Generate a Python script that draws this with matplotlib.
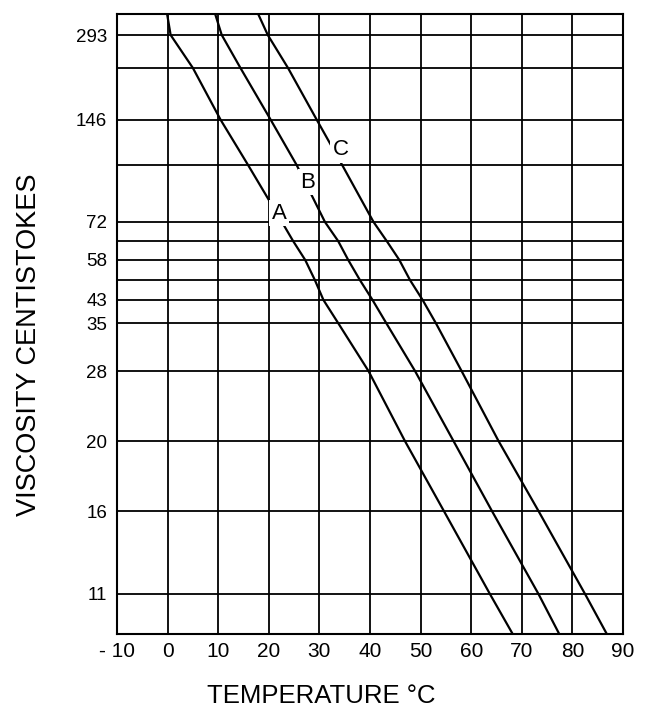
import numpy as np
import matplotlib
matplotlib.use("Agg")
import matplotlib.pyplot as plt

# ------------------------------------------------------------------
# Data
# ------------------------------------------------------------------
# ruled viscosity lines (cSt); the labelled ones and the unlabelled ones
labelled_cst = [293, 146, 72, 58, 43, 35, 28, 20, 16, 11]
unlabelled_cst = [220, 105, 65, 50]
temp_ticks = [-10, 0, 10, 20, 30, 40, 50, 60, 70, 80, 90]
temp_labels = ["- 10", "0", "10", "20", "30", "40", "50", "60", "70", "80", "90"]

# viscosities where each oil line was read (frame top .. frame bottom)
visc_read = [350, 293, 220, 146, 105, 72, 65, 58, 50, 43, 35, 28, 20, 16, 11, 9.3]
temp_A = [-0.1, 0.6, 5.0, 10.5, 15.9, 22.6, 24.8, 27.2, 29.1, 30.8, 33.7, 39.7, 46.9, 54.6, 63.7, 68.2]
temp_B = [9.4, 10.7, 14.4, 20.4, 25.5, 31.1, 33.7, 35.7, 38.0, 40.5, 43.2, 48.9, 56.5, 64.1, 73.3, 77.4]
temp_C = [17.9, 19.8, 23.8, 29.5, 34.5, 40.7, 43.3, 45.8, 47.9, 50.4, 53.0, 58.1, 65.4, 73.3, 82.5, 86.8]

# where the curve letters sit (temperature, viscosity)
letter_pos = {"A": (22.0, 76.4), "B": (27.7, 93.8), "C": (34.3, 117.2)}

# ------------------------------------------------------------------
# The printed chart uses its own (irregular) viscosity ruling:
# height of every ruled line above the lower frame edge, chart units
# ------------------------------------------------------------------
scale_cst = np.array([9.3, 11, 16, 20, 28, 35, 43, 50, 58, 65, 72, 105, 146, 220, 293, 350])
scale_h = np.array([0, 40, 123, 193, 263, 311, 334, 354, 374, 393, 412, 469, 514, 566, 599, 620], float)
log_cst = np.log(scale_cst)


def fwd(v):
    v = np.clip(np.asarray(v, float), 1e-6, None)
    return np.interp(np.log(v), log_cst, scale_h)


def inv(h):
    return np.exp(np.interp(np.asarray(h, float), scale_h, log_cst))


plt.rcParams["font.family"] = ["Liberation Sans", "DejaVu Sans"]

fig = plt.figure(figsize=(6.46, 7.07), dpi=100)
ax = fig.add_axes([117 / 646, 73 / 707, 506 / 646, 620 / 707])

ax.set_yscale("function", functions=(fwd, inv))
ax.set_xlim(-10, 90)
ax.set_ylim(9.3, 350)

ax.set_xticks(temp_ticks)
ax.set_xticklabels(temp_labels, fontsize=15)
ax.set_yticks(labelled_cst)
ax.set_yticklabels([str(v) for v in labelled_cst], fontsize=13.5)
ax.set_yticks(unlabelled_cst, minor=True)
ax.tick_params(which="both", length=0)
ax.tick_params(axis="x", pad=6)
ax.tick_params(axis="y", pad=7)

ax.grid(which="both", color="black", linewidth=1.3, zorder=4)
ax.set_axisbelow(False)
for sp in ax.spines.values():
    sp.set_linewidth(1.5)
    sp.set_zorder(5)

for temps in (temp_A, temp_B, temp_C):
    ax.plot(temps, visc_read, color="black", linewidth=1.6, zorder=2)

for name, (t, v) in letter_pos.items():
    ax.text(t, v, name, fontsize=16, ha="center", va="center", zorder=3,
            bbox=dict(facecolor="white", edgecolor="none", pad=2.0))

fig.text(29 / 646, 1 - 345 / 707, "VISCOSITY CENTISTOKES", rotation=90,
         ha="center", va="center", fontsize=19.5)
fig.text(321 / 646, 1 - 696 / 707, "TEMPERATURE °C", ha="center", va="center",
         fontsize=18.5)

fig.savefig("out.png", dpi=100)
